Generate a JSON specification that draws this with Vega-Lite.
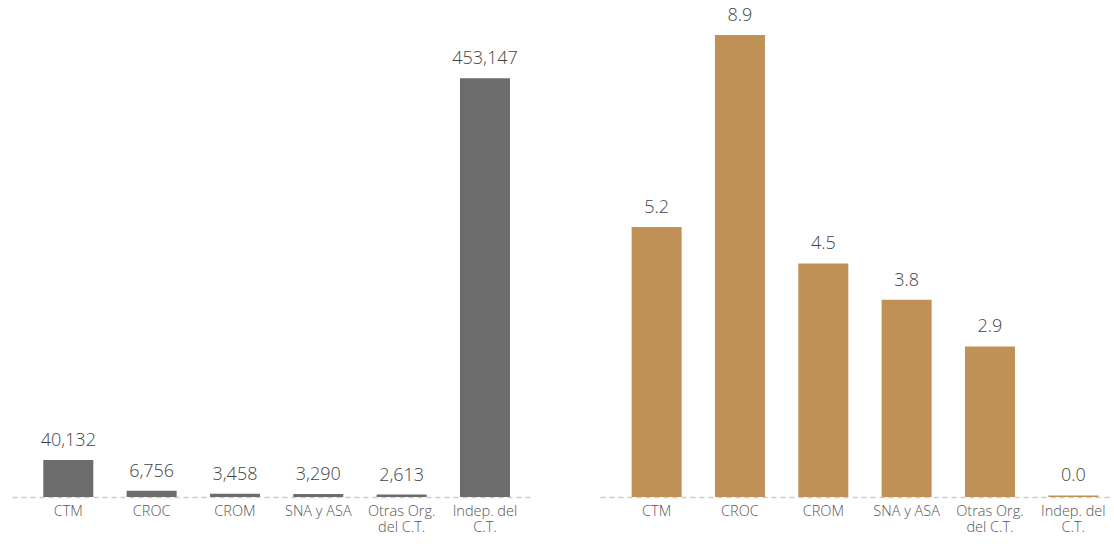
{
  "$schema": "https://vega.github.io/schema/vega-lite/v6.json",
  "padding": {"left": 12, "top": 7, "right": 0, "bottom": 0},
  "background": "white",
  "spacing": 67,
  "config": {"view": {"stroke": null}, "font": "Open Sans"},
  "datasets": {
    "afiliados": [
      {"org": "CTM", "valor": 40132},
      {"org": "CROC", "valor": 6756},
      {"org": "CROM", "valor": 3458},
      {"org": "SNA y ASA", "valor": 3290},
      {"org": "Otras Org. del C.T.", "valor": 2613},
      {"org": "Indep. del C.T.", "valor": 453147}
    ],
    "tasa": [
      {"org": "CTM", "valor": 5.2},
      {"org": "CROC", "valor": 8.9},
      {"org": "CROM", "valor": 4.5},
      {"org": "SNA y ASA", "valor": 3.8},
      {"org": "Otras Org. del C.T.", "valor": 2.9},
      {"org": "Indep. del C.T.", "valor": 0.03}
    ]
  },
  "hconcat": [
    {
      "width": 521,
      "height": 462,
      "data": {"name": "afiliados"},
      "encoding": {
        "x": {
          "field": "org", "type": "nominal", "sort": null,
          "scale": {"paddingInner": 0.4, "paddingOuter": 0.326, "align": 0.576},
          "axis": {
            "title": null, "ticks": false, "labelAngle": 0,
            "domainColor": "#cccccc", "domainDash": [5, 4], "domainWidth": 1.5,
            "labelFontSize": 14.5, "labelFontWeight": 300, "labelColor": "#555555", "labelPadding": 7,
            "labelOverlap": false, "labelBound": false, "labelLineHeight": 16,
            "labelExpr": "datum.label == 'Otras Org. del C.T.' ? ['Otras Org.', 'del C.T.'] : datum.label == 'Indep. del C.T.' ? ['Indep. del', 'C.T.'] : datum.label"
          }
        },
        "y": {"field": "valor", "type": "quantitative", "scale": {"domain": [0, 500000], "nice": false}, "axis": null}
      },
      "layer": [
        {"mark": {"type": "bar", "color": "#6b6c6b"}},
        {
          "mark": {"type": "text", "baseline": "bottom", "dy": -10, "fontSize": 18, "fontWeight": 300, "color": "#444444"},
          "encoding": {"text": {"field": "valor", "type": "quantitative", "format": ",.0f"}}
        }
      ]
    },
    {
      "width": 510,
      "height": 462,
      "data": {"name": "tasa"},
      "encoding": {
        "x": {
          "field": "org", "type": "nominal", "sort": null,
          "scale": {"paddingInner": 0.4, "paddingOuter": 0.26, "align": 0.73},
          "axis": {
            "title": null, "ticks": false, "labelAngle": 0,
            "domainColor": "#cccccc", "domainDash": [5, 4], "domainWidth": 1.5,
            "labelFontSize": 14.5, "labelFontWeight": 300, "labelColor": "#555555", "labelPadding": 7,
            "labelOverlap": false, "labelBound": false, "labelLineHeight": 16,
            "labelExpr": "datum.label == 'Otras Org. del C.T.' ? ['Otras Org.', 'del C.T.'] : datum.label == 'Indep. del C.T.' ? ['Indep. del', 'C.T.'] : datum.label"
          }
        },
        "y": {"field": "valor", "type": "quantitative", "scale": {"domain": [0, 8.9], "nice": false}, "axis": null}
      },
      "layer": [
        {"mark": {"type": "bar", "color": "#bf9156"}},
        {
          "mark": {"type": "text", "baseline": "bottom", "dy": -10, "fontSize": 18, "fontWeight": 300, "color": "#444444"},
          "encoding": {"text": {"field": "valor", "type": "quantitative", "format": ".1f"}}
        }
      ]
    }
  ]
}
